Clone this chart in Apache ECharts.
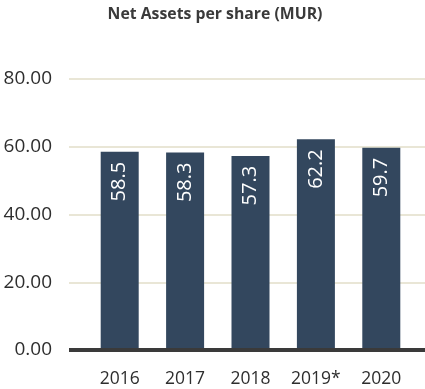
<!DOCTYPE html>
<html><head><meta charset="utf-8">
<script src="https://cdn.jsdelivr.net/npm/echarts@6/dist/echarts.min.js"></script>
<style>html,body{margin:0;padding:0;background:#fff}#c{width:425px;height:389px}</style>
</head><body><div id="c"></div>
<script>
const categories = ['2016','2017','2018','2019*','2020'];
const values = [58.5, 58.3, 57.3, 62.2, 59.7];
const yTicks = [0, 20, 40, 60, 80];
const chart = echarts.init(document.getElementById('c'));
const fam = '"Open Sans", sans-serif';
chart.setOption({
  animation:false,
  title:{text:'Net Assets per share (MUR)',left:210,textAlign:'center',top:1,
    textStyle:{fontFamily:'"Open Sans", "Noto Sans", sans-serif',fontWeight:'bold',fontSize:15.8,color:'#3a3a3a'}},
  grid:[{left:69,right:0,top:79,bottom:39},{left:87,right:11,top:79,bottom:39}],
  xAxis:[
    {gridIndex:0,type:'value',min:0,max:1,show:true,axisLine:{show:false},axisTick:{show:false},axisLabel:{show:false},splitLine:{show:false}},
    {gridIndex:1,type:'category',data:categories,axisLine:{show:false},axisTick:{show:false},
      axisLabel:{interval:0,margin:20,fontFamily:fam,fontSize:17.5,color:'#2e2e2e'}}
  ],
  yAxis:[
    {gridIndex:0,type:'value',min:yTicks[0],max:yTicks[yTicks.length-1],interval:20,
      axisLine:{show:false},axisTick:{show:false},
      axisLabel:{margin:17,fontFamily:fam,fontSize:19,color:'#2e2e2e',formatter:v=>v.toFixed(2)},
      splitLine:{lineStyle:{color:'#e9e6d6',width:2}}},
    {gridIndex:1,type:'value',min:yTicks[0],max:yTicks[yTicks.length-1],show:false,splitLine:{show:false}}
  ],
  series:[
    {type:'bar',xAxisIndex:1,yAxisIndex:1,data:values,barWidth:38,
      itemStyle:{color:'#33475e'},
      label:{show:true,position:'insideTop',rotate:90,align:'right',verticalAlign:'middle',distance:10,
        fontFamily:fam,fontSize:20,color:'#fff',formatter:p=>p.value.toFixed(1)}},
    {type:'line',xAxisIndex:0,yAxisIndex:0,data:[[0,0],[1,0]],symbol:'none',silent:true,
      lineStyle:{color:'#3a3a3a',width:4},z:10}
  ]
});
</script></body></html>
